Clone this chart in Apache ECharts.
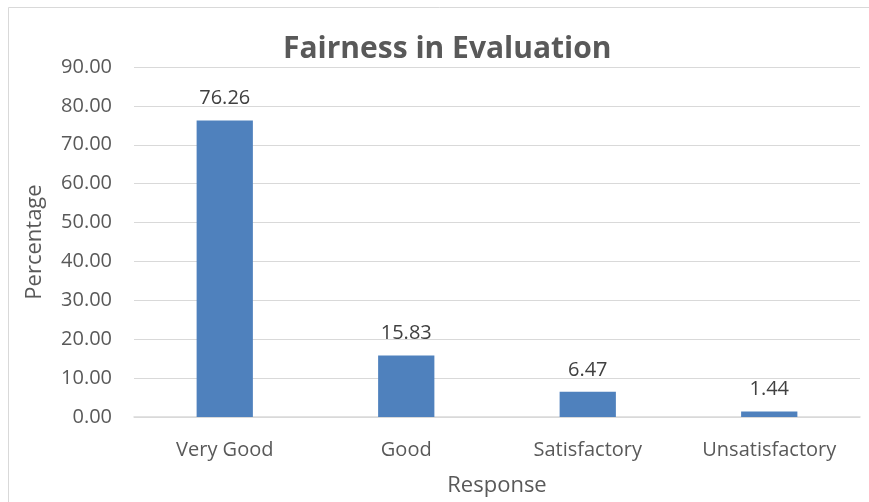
<!DOCTYPE html>
<html>
<head>
<meta charset="utf-8">
<script src="https://cdn.jsdelivr.net/npm/echarts@6/dist/echarts.min.js"></script>
<style>
  html, body { margin: 0; padding: 0; background: #fff; }
  #chart { width: 869px; height: 502px; }
</style>
</head>
<body>
<div id="chart"></div>
<script>
var categories = ['Very Good', 'Good', 'Satisfactory', 'Unsatisfactory'];
var percentages = [76.26, 15.83, 6.47, 1.44];

var fontFamily = '"Open Sans", "Noto Sans", sans-serif';
var mychart = echarts.init(document.getElementById('chart'));
var option = {
    backgroundColor: '#fff',
    animation: false,
    title: {
        text: 'Fairness in Evaluation',
        left: 278,
        top: 29,
        textStyle: {
            color: '#595959',
            fontSize: 30,
            fontWeight: 'bold',
            fontFamily: fontFamily
        }
    },
    graphic: [{
        type: 'rect',
        shape: { x: 8.5, y: 7.5, width: 900, height: 520 },
        style: { fill: 'none', stroke: '#d9d9d9', lineWidth: 1 },
        silent: true
    }],
    grid: {
        left: 134,
        right: 9,
        top: 67,
        bottom: 84
    },
    xAxis: {
        type: 'category',
        data: categories,
        name: 'Response',
        nameLocation: 'middle',
        nameGap: 58,
        nameTextStyle: { color: '#595959', fontSize: 22, fontFamily: fontFamily },
        axisLine: { show: true, lineStyle: { color: '#d9d9d9', width: 1.5 } },
        axisTick: { show: false },
        axisLabel: {
            color: '#595959',
            fontSize: 20,
            margin: 23,
            interval: 0,
            fontFamily: fontFamily
        }
    },
    yAxis: {
        type: 'value',
        min: 0,
        max: 90,
        interval: 10,
        name: 'Percentage',
        nameLocation: 'middle',
        nameGap: 88,
        nameTextStyle: { color: '#595959', fontSize: 22, fontFamily: fontFamily },
        axisLine: { show: false },
        axisTick: { show: false },
        splitLine: { lineStyle: { color: '#d9d9d9', width: 1 } },
        axisLabel: {
            color: '#595959',
            fontSize: 20,
            margin: 22,
            fontFamily: fontFamily,
            formatter: function (v) { return v.toFixed(2); }
        }
    },
    series: [{
        type: 'bar',
        data: percentages,
        barWidth: '31%',
        itemStyle: { color: '#4f81bd' },
        label: {
            show: true,
            position: 'top',
            distance: 12,
            color: '#404040',
            fontSize: 20,
            fontFamily: fontFamily,
            formatter: function (p) { return p.value.toFixed(2); }
        }
    }]
};
mychart.setOption(option);
</script>
</body>
</html>
